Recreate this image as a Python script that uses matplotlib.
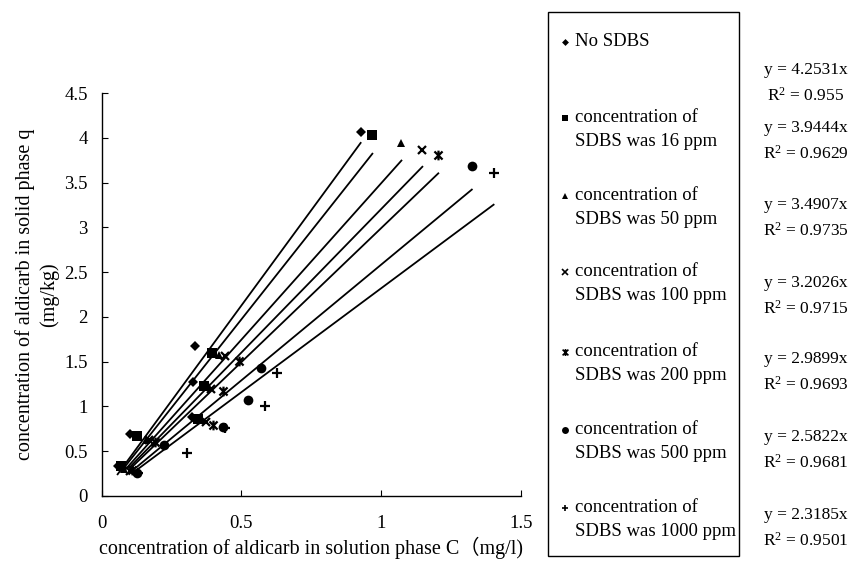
import matplotlib
matplotlib.use("Agg")
import matplotlib.pyplot as plt
from matplotlib.path import Path
from matplotlib.lines import Line2D
from matplotlib.patches import Rectangle
import numpy as np

plt.rcParams['font.family'] = ['Liberation Serif', 'Noto Sans CJK SC']
plt.rcParams['mathtext.fontset'] = 'custom'
plt.rcParams['mathtext.rm'] = 'Liberation Serif'
plt.rcParams['mathtext.it'] = 'Liberation Serif:italic'
plt.rcParams['mathtext.bf'] = 'Liberation Serif:bold'

# ---- data ----
series_names = ["No SDBS", "16 ppm", "50 ppm", "100 ppm", "200 ppm", "500 ppm", "1000 ppm"]
c_nosdbs = [0.057, 0.101, 0.325, 0.328, 0.334, 0.927]
q_nosdbs = [0.34, 0.69, 0.88, 1.27, 1.68, 4.07]
c_16 = [0.070, 0.125, 0.345, 0.367, 0.396, 0.969]
q_16 = [0.33, 0.67, 0.86, 1.23, 1.60, 4.03]
c_50 = [0.080, 0.160, 0.360, 0.385, 0.420, 1.073]
q_50 = [0.30, 0.63, 0.85, 1.22, 1.57, 3.94]
c_100 = [0.100, 0.170, 0.373, 0.391, 0.443, 1.148]
q_100 = [0.28, 0.62, 0.83, 1.19, 1.56, 3.86]
c_200 = [0.107, 0.190, 0.399, 0.435, 0.491, 1.205]
q_200 = [0.29, 0.60, 0.79, 1.17, 1.51, 3.81]
c_500 = [0.125, 0.224, 0.433, 0.523, 0.570, 1.325]
q_500 = [0.26, 0.566, 0.767, 1.07, 1.43, 3.68]
c_1000 = [0.130, 0.306, 0.441, 0.586, 0.629, 1.403]
q_1000 = [0.26, 0.483, 0.76, 1.008, 1.376, 3.61]

slopes = [4.2531, 3.9444, 3.4907, 3.2026, 2.9899, 2.5822, 2.3185]
r2_texts = ["0.955", "0.9629", "0.9735", "0.9715", "0.9693", "0.9681", "0.9501"]
legend_labels = [
    ["No SDBS"],
    ["concentration of", "SDBS was 16 ppm"],
    ["concentration of", "SDBS was 50 ppm"],
    ["concentration of", "SDBS was 100 ppm"],
    ["concentration of", "SDBS was 200 ppm"],
    ["concentration of", "SDBS was 500 ppm"],
    ["concentration of", "SDBS was 1000 ppm"],
]
x_ticks = [0, 0.5, 1, 1.5]
x_ticklabels = ["0", "0.5", "1", "1.5"]
y_ticks = [0, 0.5, 1, 1.5, 2, 2.5, 3, 3.5, 4, 4.5]
y_ticklabels = ["0", "0.5", "1", "1.5", "2", "2.5", "3", "3.5", "4", "4.5"]

cs = [c_nosdbs, c_16, c_50, c_100, c_200, c_500, c_1000]
qs = [q_nosdbs, q_16, q_50, q_100, q_200, q_500, q_1000]

# star marker (x with vertical bar)
star_path = Path([(-1, -1), (1, 1), (-1, 1), (1, -1), (0, -1.2), (0, 1.2)],
                 [Path.MOVETO, Path.LINETO, Path.MOVETO, Path.LINETO, Path.MOVETO, Path.LINETO])

styles = [
    dict(marker='D', ms=5, mew=0),
    dict(marker='s', ms=6.5, mew=0),
    dict(marker='^', ms=6, mew=0),
    dict(marker='x', ms=6, mew=1.6),
    dict(marker=star_path, ms=7, mew=1.6),
    dict(marker='o', ms=7, mew=0),
    dict(marker='+', ms=7, mew=1.6),
]
leg_styles = [
    dict(marker='D', ms=3.5, mew=0),
    dict(marker='s', ms=5, mew=0),
    dict(marker='^', ms=4.5, mew=0),
    dict(marker='x', ms=4.5, mew=1.2),
    dict(marker=star_path, ms=5, mew=1.2),
    dict(marker='o', ms=5, mew=0),
    dict(marker='+', ms=5, mew=1.2),
]

W, H = 850, 564
fig = plt.figure(figsize=(8.5, 5.64), dpi=100)
ax = fig.add_axes([101.7 / W, (H - 496) / H, 419 / W, 403 / H])

for c, q, k, st in zip(cs, qs, slopes, styles):
    ax.plot(c, q, linestyle='none', color='black', markerfacecolor='black',
            markeredgecolor='black', **st)
    xl = np.array([min(c), max(c)])
    ax.plot(xl, k * xl, color='black', lw=1.3)

ax.set_xlim(0, 1.5)
ax.set_ylim(0, 4.5)
ax.set_xticks(x_ticks)
ax.set_xticklabels(x_ticklabels)
ax.set_yticks(y_ticks)
ax.set_yticklabels(y_ticklabels)
ax.spines['top'].set_visible(False)
ax.spines['right'].set_visible(False)
for s in ['left', 'bottom']:
    ax.spines[s].set_linewidth(1.0)
ax.tick_params(axis='both', direction='in', length=4, width=0.8, labelsize=13.5)
ax.tick_params(axis='x', pad=14)
ax.tick_params(axis='y', pad=10)

ax.set_xlabel("concentration of aldicarb in solution phase C\uff08mg/l)", fontsize=14.5, labelpad=3)
ax.set_ylabel("concentration of aldicarb in solid phase q\n(mg/kg)", fontsize=14.5,
              linespacing=1.3, labelpad=4)

# legend box
def fx(px):
    return px / W

def fy(py):
    return (H - py) / H

fig.add_artist(Rectangle((fx(547.5), fy(556)), (739 - 547.5) / W, (556 - 12) / H,
                         transform=fig.transFigure, fill=False, edgecolor='black', lw=1.0))

first_line_y = [42, 118, 196, 272, 352, 430, 508]
eq_y = [70, 128, 205, 283, 359, 437, 515]
for i, (lab, st) in enumerate(zip(legend_labels, leg_styles)):
    y0 = first_line_y[i]
    fig.add_artist(Line2D([fx(565)], [fy(y0)], transform=fig.transFigure, linestyle='none',
                          color='black', markerfacecolor='black', markeredgecolor='black', **st))
    for j, line in enumerate(lab):
        fig.text(fx(575), fy(y0 + j * 23), line, fontsize=13.5, va='center', ha='left')
    fig.text(fx(806), fy(eq_y[i]), f"y = {slopes[i]}x", fontsize=12.5, va='center', ha='center')
    fig.text(fx(806), fy(eq_y[i] + 26), r"$\mathrm{R}^{2}$" + f" = {r2_texts[i]}",
             fontsize=12.5, va='center', ha='center')

fig.savefig("out.png", dpi=100)
